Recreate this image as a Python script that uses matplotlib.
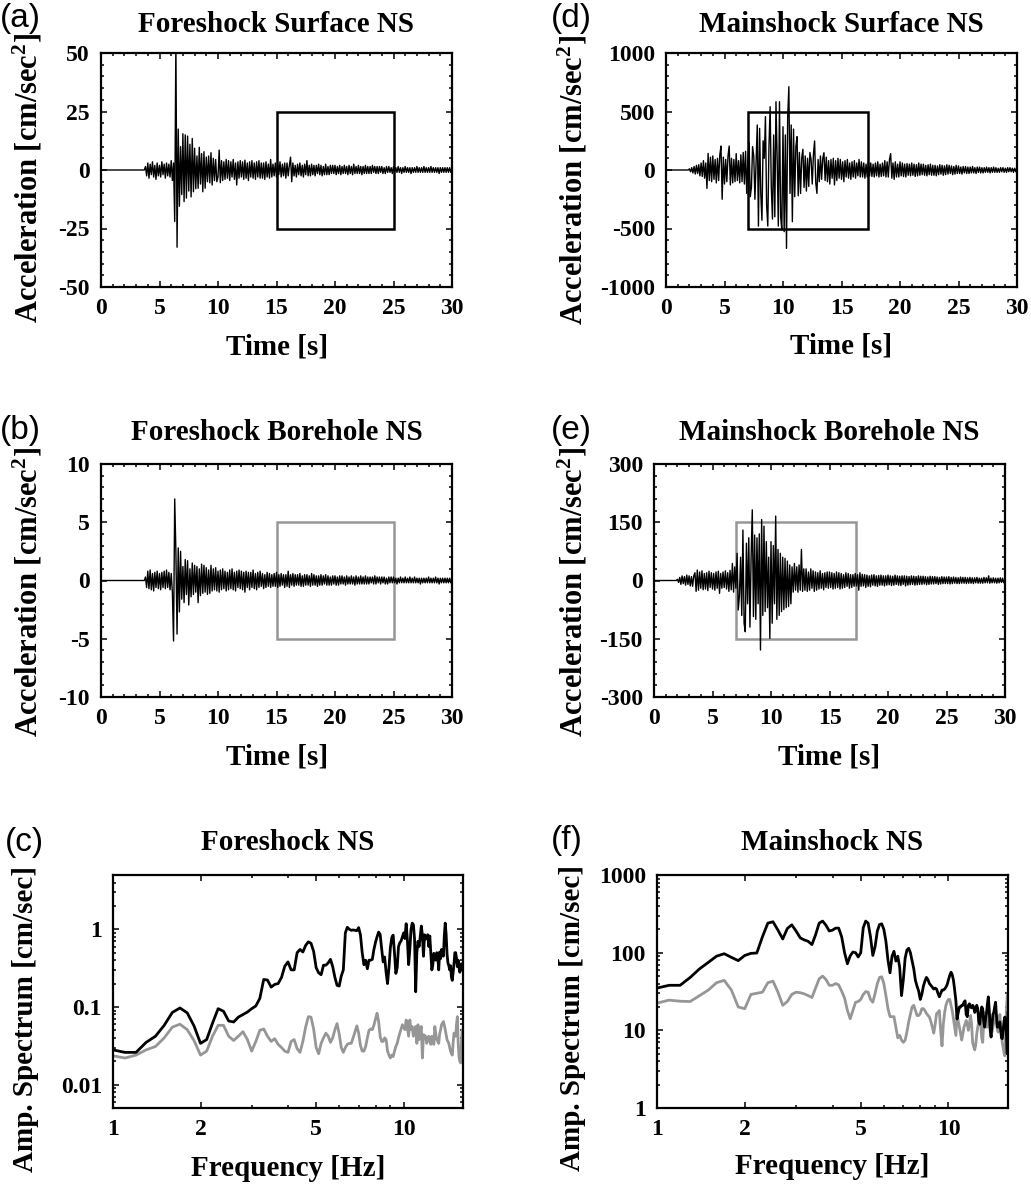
import numpy as np
import matplotlib
matplotlib.use("Agg")
import matplotlib.pyplot as plt
from matplotlib.ticker import MultipleLocator, FixedLocator, NullFormatter, LogLocator
from matplotlib.patches import Rectangle

plt.rcParams['font.family'] = 'Liberation Serif'
plt.rcParams['font.weight'] = 'bold'
plt.rcParams['axes.unicode_minus'] = False
plt.rcParams['mathtext.fontset'] = 'custom'
plt.rcParams['mathtext.rm'] = 'Liberation Serif:bold'
plt.rcParams['mathtext.it'] = 'Liberation Serif:bold'
plt.rcParams['mathtext.bf'] = 'Liberation Serif:bold'

# ---- waveforms, sampled every 0.1 s from the onset, cm/s^2 ----
dt = 0.1
fs_surf_start = 3.8
fs_surf = [1.5, -2.5, 3.0, -3.5, 2.5, -2.0, 3.5, -3.0, 2.0, -4.0,
           3.0, -2.5, 2.0, -3.0, 3.5, -2.0, 2.5, -3.5, 3.0, -2.5,
           2.5, -3.0, 4.0, -4.5, 3.0, -22.0, 55.0, -33.0, 17.5, -15.5,
           10.0, -10.5, 15.5, -13.5, 15.0, -12.0, 14.5, -9.0, 11.0, -11.5,
           13.5, -9.3, 9.3, -8.0, 6.0, -7.8, 9.7, -6.0, 7.0, -9.3,
           7.8, -7.8, 5.5, -5.0, 6.0, -5.5, 7.4, -6.4, 5.0, -4.5,
           4.5, -5.0, -3.0, 8.5, -5.4, 4.0, -4.5, 3.5, -4.0, 4.5,
           -3.5, 4.0, -4.5, 3.5, -3.0, 4.5, -4.0, 3.0, -6.4, 3.5,
           -3.5, 4.0, -3.0, 3.5, -4.0, 4.2, -3.5, 3.0, -4.5, 3.5,
           -3.0, 4.0, -3.5, 3.0, -4.0, 3.5, -3.0, 4.0, -3.5, 3.0,
           -3.5, 3.0, -4.0, 3.5, -3.0, 2.5, -3.5, 4.5, -3.0, 2.5,
           -2.5, 3.0, -3.0, 2.5, -2.0, 3.5, -3.0, 2.5, -2.5, 3.0,
           -3.5, 3.0, -2.5, 2.0, 5.5, -5.0, 3.0, -2.5, 2.0, -3.0,
           2.5, -2.0, 3.0, -2.5, 2.0, -3.0, 2.5, -2.0, 4.0, -2.5,
           2.0, -2.5, 2.5, -2.0, 2.0, -2.5, 2.0, -1.5, 2.5, -2.0,
           2.0, -2.5, 1.5, -2.0, 2.5, -2.0, 1.5, -2.0, 2.0, -1.5,
           2.0, -1.5, 2.0, -2.0, 1.5, -1.5, 2.0, -2.0, 1.5, -1.5,
           2.0, -1.5, 1.5, -2.0, 2.0, -1.5, 1.5, -2.0, 2.5, -1.5,
           1.5, -1.5, 2.0, -1.5, 1.5, -2.0, 1.5, -1.5, 2.0, -1.5,
           1.5, -1.5, 1.5, -1.5, 2.0, -1.0, 1.5, -1.5, 1.5, -1.5,
           1.5, -1.0, 1.5, -1.5, 1.0, -1.5, 1.5, -1.0, 1.5, -1.0,
           1.0, -1.5, 1.5, -1.0, 1.0, -1.0, 1.5, -1.0, 1.0, -1.5,
           1.0, -1.0, 1.5, -1.0, 1.0, -1.0, 1.0, -1.5, 1.0, -1.0,
           1.0, -1.0, 1.5, -1.0, 1.0, -1.0, 1.0, -1.0, 1.5, -1.0,
           1.0, -1.0, 1.0, -1.0, 1.5, -1.0, 1.0, -1.0, 1.0, -1.0,
           1.0, -1.5, 1.0, -1.0, 1.0, -1.0, 1.0, -1.0, 1.0, -1.0,
           1.0, -1.0, 1.0]

fs_bore_start = 3.8
fs_bore = [0.3, -0.6, 0.8, -0.7, 0.9, -0.8, 0.6, -0.9, 0.7, -0.6,
           0.8, -0.7, 0.6, -0.8, 0.7, -0.6, 0.8, -0.7, 0.9, -0.6,
           0.7, -0.8, 0.6, -1.0, -5.2, 7.0, 2.5, -4.6, 2.8, -2.7,
           2.5, -1.6, 1.2, -1.9, 1.8, -1.2, 1.7, -2.1, 1.0, -1.4,
           1.5, -1.2, 1.3, -1.0, 1.2, -1.9, 1.0, -1.3, 1.4, -1.1,
           1.3, -1.0, 1.1, -1.2, 0.9, -1.1, 1.3, -0.9, 1.0, -0.8,
           1.1, -0.9, 0.8, -1.0, 0.9, -0.8, 1.0, -0.7, 0.8, -0.9,
           0.7, -0.8, 0.9, -0.7, 1.0, -0.8, 0.7, -0.9, 0.8, -0.6,
           0.9, -0.7, 0.8, -0.8, 0.7, -1.0, 0.8, -0.6, 0.7, -0.8,
           0.7, -0.6, 0.9, -0.7, 0.6, -0.8, 0.7, -0.6, 0.8, -0.5,
           0.6, -0.7, 0.5, -0.6, 0.7, -0.5, 0.6, -0.6, 0.5, -0.5,
           0.6, -0.5, 0.7, -0.6, 0.5, -0.5, 0.6, -0.4, 0.5, -0.6,
           0.5, -0.5, 0.8, -0.6, 0.5, -0.4, 0.6, -0.5, 0.5, -0.4,
           0.5, -0.4, 0.6, -0.5, 0.4, -0.5, 0.5, -0.4, 0.5, -0.4,
           0.4, -0.5, 0.6, -0.4, 0.5, -0.4, 0.4, -0.5, 0.4, -0.4,
           0.5, -0.4, 0.4, -0.3, 0.5, -0.4, 0.4, -0.4, 0.3, -0.4,
           0.4, -0.3, 0.4, -0.4, 0.3, -0.4, 0.4, -0.3, 0.4, -0.3,
           0.3, -0.4, 0.4, -0.3, 0.3, -0.3, 0.4, -0.3, 0.3, -0.4,
           0.4, -0.3, 0.3, -0.3, 0.4, -0.3, 0.3, -0.3, 0.4, -0.3,
           0.3, -0.3, 0.3, -0.2, 0.3, -0.3, 0.4, -0.3, 0.3, -0.2,
           0.3, -0.3, 0.3, -0.2, 0.3, -0.3, 0.2, -0.3, 0.3, -0.2,
           0.3, -0.2, 0.3, -0.2, 0.2, -0.3, 0.2, -0.2, 0.3, -0.2,
           0.2, -0.2, 0.3, -0.2, 0.2, -0.2, 0.3, -0.2, 0.2, -0.2,
           0.3, -0.2, 0.2, -0.2, 0.2, -0.3, 0.2, -0.2, 0.2, -0.2,
           0.2, -0.2, 0.3, -0.2, 0.2, -0.2, 0.2, -0.2, 0.3, -0.2,
           0.2, -0.3, 0.2, -0.2, 0.2, -0.2, 0.2, -0.2, 0.2, -0.2,
           0.2, -0.2, 0.2]

ms_surf_start = 1.9
ms_surf = [0, 10, -15, 20, -25, 30, -35, 40, -30, 45,
           -50, 60, -55, 80, -70, 60, -157, 142, -90, 110,
           -100, 120, -80, 90, -110, 100, -90, 130, 205, -250,
           110, -120, 90, -100, 120, 205, -128, 100, -110, 90,
           -100, 140, -90, 80, -110, 130, -100, 150, -120, 160,
           -200, 100, 234, -228, -150, 200, 120, -250, 80, 385,
           -479, 356, -200, -430, 250, 100, 456, -300, -479, 200,
           541, -150, -420, 300, -400, 584, 100, -480, 584, -400,
           -513, 370, -527, 300, -670, 450, 712, -200, 385, -442,
           350, -228, 200, 285, -220, 150, -200, 100, 177, -150,
           120, -180, 100, -140, 150, 90, -120, 130, 248, -110,
           -200, 90, -100, 120, -80, 100, 148, -90, 110, -100,
           80, -120, 90, -70, 100, -128, 80, -90, 100, -70,
           90, -80, 70, -100, 80, -60, 90, -70, 60, -80,
           70, -60, 80, -70, 60, -50, 90, -60, 70, -60,
           60, -70, 50, -60, 70, -50, 60, -55, 50, -60,
           60, -50, 70, -60, 50, -55, 60, -50, 80, -60,
           70, -60, 90, 140, -70, 60, -80, 70, -60, 50,
           -60, 70, -50, 60, -55, 50, -60, 55, -45, 50,
           -50, 60, -45, 50, -55, 45, -50, 60, -45, 50,
           -40, 50, -45, 40, -50, 45, -40, 50, -45, 40,
           -45, 40, -50, 35, -40, 45, -35, 40, -45, 35,
           -40, 45, -35, 40, -30, 35, -40, 30, -35, 40,
           -30, 35, -30, 25, -35, 30, -25, 30, -30, 25,
           -30, 25, -25, 30, -25, 20, -30, 25, -20, 25,
           -25, 20, -25, 20, -20, 25, -20, 20, -25, 20,
           -20, 25, -20, 20, -20, 15, -20, 20, -15, 20,
           -20, 15, -20, 20, -15, 20, -15, 15, -20, 15,
           -15, 20]

ms_bore_start = 1.9
ms_bore = [0, 3, -5, 8, -10, 12, -8, 10, -12, 14,
           -10, 12, -14, 10, -15, 12, 20, -28, 27, -25,
           22, -20, 25, -24, 18, -22, 20, -26, 24, -18,
           20, -22, 18, -25, 22, -20, 24, -33, 18, -20,
           22, -18, 25, -22, 20, -28, 26, -24, 44, -30,
           35, -20, 70, -76, -40, 60, -90, 130, -110, -132,
           96, -60, 110, -120, 60, 182, -93, 117, -100, 110,
           -60, 120, -179, 157, -90, 140, -80, 100, -70, 60,
           -149, 100, -110, 90, -60, 166, -100, 80, -90, 70,
           -80, 60, -75, 57, -70, 50, -67, 40, -60, 35,
           -30, 44, -25, 35, -30, 40, -25, 80, -28, 30,
           -25, 30, -28, 22, -25, 30, -20, 25, -28, 22,
           -25, 20, -22, 25, -20, 18, -24, 20, -18, 22,
           -20, 22, -18, 20, -22, 18, -20, 22, -18, 20,
           -22, 18, -20, 15, -18, 20, -15, 18, -20, 15,
           -18, 15, -15, 18, -14, 15, -25, 20, -15, 16,
           -14, 15, -18, 14, -15, 12, -16, 14, -12, 15,
           -14, 12, -15, 13, -12, 14, -12, 12, -14, 12,
           -12, 14, -11, 12, -13, 11, -12, 14, -10, 12,
           -12, 11, -13, 12, -10, 12, -14, 11, -12, 10,
           -11, 12, -10, 11, -12, 10, -11, 12, -10, 11,
           -10, 11, -9, 10, -11, 9, -10, 11, -9, 10,
           -9, 10, -8, 9, -10, 8, -9, 10, -8, 9,
           -8, 9, -8, 10, -9, 8, -8, 9, -7, 8,
           -8, 7, -8, 9, -7, 8, -7, 8, -8, 7,
           -7, 8, -7, 7, -8, 7, -6, 8, -7, 6,
           -7, 6, -7, 8, -6, 7, -6, 12, -7, 6,
           -6, 7, -6, 6, -7, 6, -6, 7, -5, 6,
           -6, 5]

# ---- amplitude spectra, 1.0 Hz upward in 0.1 Hz steps ----
f0, df = 1.0, 0.1
fs_spec_surf = [0.028, 0.026, 0.026, 0.035, 0.042, 0.058, 0.085, 0.097, 0.084, 0.057,
                0.034, 0.038, 0.062, 0.095, 0.088, 0.066, 0.064, 0.074, 0.080, 0.086,
                0.095, 0.103, 0.129, 0.226, 0.222, 0.18, 0.195, 0.20, 0.24, 0.335,
                0.38, 0.30, 0.30, 0.50, 0.55, 0.51, 0.62, 0.69, 0.66, 0.52,
                0.32, 0.275, 0.26, 0.345, 0.345, 0.37, 0.41, 0.33, 0.24, 0.19,
                0.186, 0.25, 0.30, 0.9, 1.06, 1.0, 0.97, 0.98, 0.97, 0.96,
                1.05, 0.85, 0.5, 0.35, 0.40, 0.31, 0.40, 0.40, 0.41, 0.55,
                0.68, 0.80, 0.92, 0.86, 0.56, 0.38, 0.44, 0.28, 0.2, 0.32,
                0.58, 0.78, 0.84, 0.49, 0.27, 0.32, 0.6, 0.67, 0.71, 0.8,
                0.9, 0.76, 1.18, 0.72, 0.35, 0.55, 1.0, 1.2, 1.15, 0.75,
                0.157, 0.5, 0.7, 0.6, 0.8, 1.1, 0.84, 0.45, 0.85, 0.75,
                0.8, 0.85, 0.6, 0.82, 0.5, 0.3, 0.35, 0.49, 0.46, 0.40,
                0.5, 0.45, 0.30, 0.51, 0.42, 0.55, 0.48, 0.45, 0.84, 1.2,
                0.85, 0.48, 0.37, 0.34, 0.30, 0.34, 0.24, 0.22, 0.28, 0.36,
                0.5, 0.5, 0.42, 0.33, 0.40, 0.32, 0.28, 0.3, 0.36, 0.34,
                0.33]
fs_spec_bore = [0.0235, 0.022, 0.024, 0.028, 0.031, 0.040, 0.055, 0.060, 0.051, 0.037,
                0.024, 0.027, 0.042, 0.058, 0.058, 0.042, 0.037, 0.042, 0.048, 0.038,
                0.027, 0.036, 0.050, 0.052, 0.042, 0.036, 0.039, 0.033, 0.030, 0.027,
                0.026, 0.036, 0.038, 0.029, 0.026, 0.036, 0.055, 0.075, 0.074, 0.052,
                0.030, 0.025, 0.034, 0.040, 0.046, 0.042, 0.035, 0.040, 0.051, 0.061,
                0.045, 0.030, 0.026, 0.030, 0.033, 0.034, 0.034, 0.040, 0.048, 0.057,
                0.046, 0.032, 0.027, 0.027, 0.031, 0.040, 0.050, 0.052, 0.051, 0.058,
                0.070, 0.083, 0.065, 0.042, 0.036, 0.036, 0.040, 0.038, 0.027, 0.024,
                0.022, 0.024, 0.023, 0.027, 0.031, 0.034, 0.040, 0.046, 0.052, 0.059,
                0.055, 0.051, 0.068, 0.053, 0.042, 0.068, 0.051, 0.056, 0.042, 0.050,
                0.056, 0.034, 0.059, 0.038, 0.050, 0.056, 0.022, 0.044, 0.043, 0.042,
                0.034, 0.038, 0.042, 0.036, 0.033, 0.042, 0.038, 0.033, 0.056, 0.045,
                0.038, 0.036, 0.034, 0.045, 0.051, 0.059, 0.062, 0.065, 0.058, 0.051,
                0.044, 0.038, 0.036, 0.034, 0.030, 0.027, 0.025, 0.024, 0.035, 0.046,
                0.044, 0.042, 0.060, 0.075, 0.035, 0.023, 0.020, 0.019, 0.035, 0.051,
                0.045]
ms_spec_surf = [35, 38, 38, 48, 62, 75, 90, 97, 87, 79,
                92, 98, 99, 160, 240, 250, 195, 150, 205, 228,
                190, 155, 146, 140, 127, 170, 240, 255, 225, 190,
                195, 207, 207, 160, 100, 72, 91, 102, 100, 88,
                100, 210, 255, 240, 160, 92, 120, 190, 230, 235,
                200, 140, 80, 55, 90, 104, 78, 90, 65, 28,
                45, 85, 108, 114, 100, 78, 62, 44, 37, 32,
                25, 29, 37, 43, 48, 45, 40, 38, 36, 34,
                35, 34, 30, 27, 30, 33, 33, 34, 36, 39,
                45, 51, 56, 52, 44, 33, 24, 14, 17, 20,
                20, 21, 21, 23, 24, 16, 15, 21, 22, 20,
                19.5, 21, 20, 17, 18, 21, 19, 13, 12, 16,
                20, 19, 13, 11, 14, 16.4, 22, 27, 18, 10,
                8.2, 12, 16, 17, 20, 23, 16, 11, 11, 12,
                12.8, 10, 8, 7.8, 10, 13, 14.8, 13, 9, 5,
                17]
ms_spec_bore = [22.4, 24.5, 23.7, 23.5, 28, 33, 41, 44, 33, 20,
                19, 29, 30, 31, 41, 43, 31, 21, 23.5, 29,
                31, 30.5, 29.5, 28, 26.5, 35, 46, 50, 45, 38,
                38, 40, 38.5, 32, 26, 18, 14.1, 18, 23, 23.5,
                25, 29, 31.5, 31, 25, 23, 30, 40, 48, 49,
                40, 28, 19, 15, 15, 15, 11, 8, 8.6, 7.5,
                7, 7.5, 9.5, 12.8, 16, 20, 21, 18, 15.5, 15.5,
                16.4, 19, 19, 18, 16.5, 15.6, 14.8, 13, 11, 9.2,
                12, 16.4, 17, 18, 10, 6.3, 12, 17, 21, 23.5,
                25, 25, 21, 18, 14, 11, 8.6, 16, 13, 11,
                9, 7.5, 9, 11, 12, 13.4, 12, 10, 12, 15.5,
                12, 7, 6.2, 5.6, 6.5, 9, 11, 13, 16, 12,
                8, 7, 12, 17, 14, 11, 11, 14, 16.4, 13,
                10, 9.5, 11, 12.5, 14.5, 16.2, 13, 10.5, 9.5, 12.5,
                16, 12, 8.5, 6.8, 6, 5.2, 4.7, 9, 18, 28,
                30]

W, H = 1031, 1184
fig = plt.figure(figsize=(W / 100, H / 100), dpi=100)
GREY = '#969696'


def add_ax(x0, y0, x1, y1):
    ax = fig.add_axes([x0 / W, 1 - y1 / H, (x1 - x0) / W, (y1 - y0) / H])
    for s in ax.spines.values():
        s.set_linewidth(1.6)
    ax.tick_params(which='both', direction='in', top=True, right=True,
                   labelsize=17, width=1.1)
    ax.tick_params(which='major', length=4.5)
    ax.tick_params(which='minor', length=2.5)
    ax.tick_params(axis='x', pad=8)
    ax.tick_params(axis='y', pad=8)
    return ax


def ftext(x, y, s, **kw):
    fig.text(x / W, 1 - y / H, s, **kw)


def wave(ax, start, vals, lim, minor, box, box_color):
    t = np.concatenate([[0.0, start - dt], start + dt * np.arange(len(vals))])
    y = np.concatenate([[0.0, 0.0], vals])
    ax.plot(t, y, color='black', lw=1.0)
    ax.add_patch(Rectangle((box[0], -box[2]), box[1] - box[0], 2 * box[2],
                           fill=False, ec=box_color, lw=1.8))
    ax.set_xlim(0, 30)
    ax.set_ylim(-lim, lim)
    ax.set_xticks([0, 5, 10, 15, 20, 25, 30])
    ax.set_yticks(np.linspace(-lim, lim, 5))
    ax.xaxis.set_minor_locator(MultipleLocator(1))
    ax.yaxis.set_minor_locator(MultipleLocator(minor))


def spec(ax, surf, bore, ylim, yt, ytl):
    f = f0 + df * np.arange(len(surf))
    ax.plot(f, bore, color=GREY, lw=2)
    ax.plot(f, surf, color='black', lw=2)
    ax.set_xscale('log')
    ax.set_yscale('log')
    ax.set_xlim(1, 16)
    ax.set_ylim(*ylim)
    ax.xaxis.set_major_locator(FixedLocator([1, 2, 5, 10]))
    ax.set_xticklabels(['1', '2', '5', '10'])
    ax.xaxis.set_minor_locator(FixedLocator([3, 4, 6, 7, 8, 9]))
    ax.xaxis.set_minor_formatter(NullFormatter())
    ax.yaxis.set_major_locator(FixedLocator(yt))
    ax.set_yticklabels(ytl)
    ax.yaxis.set_minor_locator(LogLocator(base=10, subs=np.arange(2, 10)))
    ax.yaxis.set_minor_formatter(NullFormatter())


acc_label = 'Acceleration [cm/sec$^2$]'
lab = dict(fontsize=21, fontweight='bold', ha='center', va='center')
ylab = dict(fontsize=22, fontweight='bold', ha='center', va='center', rotation=90)
ttl = dict(fontsize=21, fontweight='bold', ha='center', va='baseline')
let = dict(fontsize=24, family='Liberation Sans', fontweight='normal', ha='left', va='center')

# (a)
ax = add_ax(101, 53, 452, 287)
wave(ax, fs_surf_start, fs_surf, 50, 5, (15, 25, 25), 'black')
ftext(276.5, 32, 'Foreshock Surface NS', **ttl)
ftext(277, 347, 'Time [s]', **lab)
ftext(27.5, 178, acc_label, **ylab)
ftext(0, 19, '(a)', **let)

# (d)
ax = add_ax(666, 53, 1017, 287)
wave(ax, ms_surf_start, ms_surf, 1000, 100, (7.0, 17.24, 500), 'black')
ftext(841.5, 32, 'Mainshock Surface NS', **ttl)
ftext(841.5, 346, 'Time [s]', **lab)
ftext(573, 180, acc_label, **ylab)
ftext(551, 19, '(d)', **let)

# (b)
ax = add_ax(101, 464, 452, 697)
wave(ax, fs_bore_start, fs_bore, 10, 1, (15, 25, 5), GREY)
ftext(276.5, 440, 'Foreshock Borehole NS', **ttl)
ftext(277, 757, 'Time [s]', **lab)
ftext(27.5, 592, acc_label, **ylab)
ftext(0, 430, '(b)', **let)

# (e)
ax = add_ax(654, 464, 1005, 697)
wave(ax, ms_bore_start, ms_bore, 300, 30, (7.0, 17.24, 150), GREY)
ftext(829.5, 440, 'Mainshock Borehole NS', **ttl)
ftext(829.5, 757, 'Time [s]', **lab)
ftext(573, 592, acc_label, **ylab)
ftext(551, 431, '(e)', **let)

# (c)
ax = add_ax(113, 875, 463, 1108)
spec(ax, fs_spec_surf, fs_spec_bore, (0.005, 5), [0.01, 0.1, 1], ['0.01', '0.1', '1'])
ftext(288, 850, 'Foreshock NS', **ttl)
ftext(288, 1168, 'Frequency [Hz]', **lab)
ftext(25.5, 1019, 'Amp. Spectrum [cm/sec]', **dict(ylab, fontsize=21))
ftext(5, 842, '(c)', **let)

# (f)
ax = add_ax(657, 875, 1008, 1108)
spec(ax, ms_spec_surf, ms_spec_bore, (1, 1000), [1, 10, 100, 1000], ['1', '10', '100', '1000'])
ftext(832.5, 850, 'Mainshock NS', **ttl)
ftext(832.5, 1167, 'Frequency [Hz]', **lab)
ftext(572.5, 1018, 'Amp. Spectrum [cm/sec]', **dict(ylab, fontsize=21))
ftext(551, 840, '(f)', **let)

fig.savefig('out.png', dpi=100)
